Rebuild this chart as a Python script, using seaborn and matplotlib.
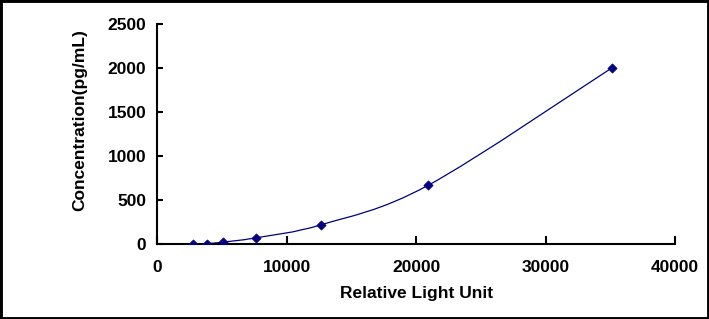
import numpy as np
import pandas as pd
import seaborn as sns
import matplotlib
matplotlib.use("Agg")
import matplotlib.pyplot as plt
from matplotlib.path import Path
from matplotlib.patches import PathPatch, Rectangle

# standard curve data
rlu = [2750, 3850, 5070, 7635, 12680, 20910, 35150]
conc = [0, 8.2, 24.7, 74.1, 222.2, 666.7, 2000]
x_ticks = [0, 10000, 20000, 30000, 40000]
y_ticks = [0, 500, 1000, 1500, 2000, 2500]

sns.set_style("ticks")
plt.rcParams["font.family"] = ["Liberation Sans", "DejaVu Sans"]
plt.rcParams["font.weight"] = "bold"
plt.rcParams["font.size"] = 12.5
plt.rcParams["text.color"] = "black"
plt.rcParams["axes.labelcolor"] = "black"
plt.rcParams["xtick.color"] = "black"
plt.rcParams["ytick.color"] = "black"

df = pd.DataFrame({"Relative Light Unit": rlu, "Concentration(pg/mL)": conc})

fig = plt.figure(figsize=(7.09, 3.19), dpi=100)
ax = fig.add_axes([157.3 / 709, 1 - 244.3 / 319, (675 - 157.3) / 709, (244.3 - 23.5) / 319])

line_color = "#000080"

# smoothed line like a spreadsheet "smooth line" (bezier through the points)
pts = df[["Relative Light Unit", "Concentration(pg/mL)"]].to_numpy(dtype=float)
verts = [pts[0]]
codes = [Path.MOVETO]
n = len(pts)
for i in range(n - 1):
    p0 = pts[i - 1] if i > 0 else pts[i]
    p1 = pts[i]
    p2 = pts[i + 1]
    p3 = pts[i + 2] if i + 2 < n else pts[i + 1]
    c1 = p1 + (p2 - p0) / 6.0
    c2 = p2 - (p3 - p1) / 6.0
    verts += [c1, c2, p2]
    codes += [Path.CURVE4] * 3
ax.add_patch(PathPatch(Path(verts, codes), facecolor="none", edgecolor=line_color, lw=0.9, zorder=2))

sns.scatterplot(data=df, x="Relative Light Unit", y="Concentration(pg/mL)", ax=ax,
                marker="D", s=22, color=line_color, edgecolor=line_color, linewidth=0.5, zorder=3)

ax.set_xlim(0, 40000)
ax.set_ylim(0, 2500)
ax.set_xticks(x_ticks)
ax.set_yticks(y_ticks)
ax.set_xticklabels([str(t) for t in x_ticks], fontweight="bold")
ax.set_yticklabels([str(t) for t in y_ticks], fontweight="bold")
sns.despine(ax=ax)
for s in ["left", "bottom"]:
    ax.spines[s].set_linewidth(1.5)
    ax.spines[s].set_color("black")
ax.tick_params(axis="x", direction="in", length=5.5, width=1.5, pad=11)
ax.tick_params(axis="y", direction="in", length=4.5, width=1.5, pad=8)
ax.set_xlabel("Relative Light Unit", fontweight="bold", labelpad=8)
ax.set_ylabel("Concentration(pg/mL)", fontweight="bold")
ax.yaxis.set_label_coords(-0.136, 0.563)

# black frame around the whole picture
fig.patches.append(Rectangle((0, 0), 1, 1, transform=fig.transFigure, fill=False,
                             edgecolor="black", lw=3.5, zorder=10))

fig.savefig("out.png", dpi=100, facecolor="white")
